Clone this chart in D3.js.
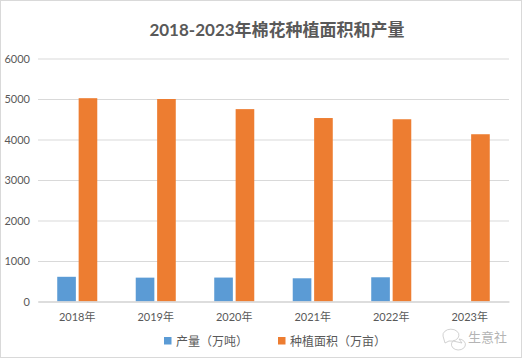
<!DOCTYPE html>
<html>
<head>
<meta charset="utf-8">
<script src="https://cdn.jsdelivr.net/npm/d3@7"></script>
<style>
  body { margin: 0; background: #fff; }
  text { font-family: Lato, "Noto Sans CJK SC", sans-serif; }
</style>
</head>
<body>
<div id="chart"></div>
<script>
let width = 523,
    height = 359;

// data
let years = ["2018年", "2019年", "2020年", "2021年", "2022年", "2023年"];
let seriesNames = ["产量（万吨）", "种植面积（万亩）"];
let output = [610, 589, 591, 573, 598, null];
let area = [5020, 5000, 4750, 4530, 4500, 4130];
let yTicks = [0, 1000, 2000, 3000, 4000, 5000, 6000];
let colors = ["#5B9BD5", "#ED7D31"];

let svg = d3.select("#chart")
  .append("svg")
  .attr("width", width)
  .attr("height", height);

// frame
svg.append("rect")
  .attr("x", 0.5).attr("y", 0.5)
  .attr("width", width - 2).attr("height", height - 2)
  .attr("fill", "#fff")
  .attr("stroke", "#d9d9d9");

let plotLeft = 38, plotRight = 509, plotTop = 58.5, plotBottom = 301.5;

let y = d3.scaleLinear()
  .domain([0, 6000])
  .range([plotBottom, plotTop]);

let x0 = d3.scaleBand()
  .domain(years)
  .range([plotLeft, plotRight])
  .paddingInner(0.49)
  .paddingOuter(0.245);

let x1 = d3.scaleBand()
  .domain([0, 1])
  .range([0, x0.bandwidth()])
  .paddingInner(0.13);

// title
svg.append("text")
  .attr("x", 277)
  .attr("y", 36)
  .attr("text-anchor", "middle")
  .attr("font-size", 17)
  .attr("font-weight", "bold")
  .attr("fill", "#595959")
  .text("2018-2023年棉花种植面积和产量");

// grid + y labels
let yAxis = d3.axisLeft(y)
  .tickValues(yTicks)
  .tickFormat(d3.format("d"))
  .tickSize(-(plotRight - plotLeft))
  .tickPadding(8);

let gy = svg.append("g")
  .attr("transform", "translate(" + plotLeft + ",0)")
  .call(yAxis);
gy.select(".domain").remove();
gy.selectAll(".tick line")
  .attr("stroke", "#d9d9d9")
  .attr("stroke-width", 1);
gy.selectAll(".tick text")
  .attr("font-size", 11)
  .attr("fill", "#595959")
  .attr("x", -8);

// bars
let rows = years.map((yr, i) => ({ year: yr, values: [output[i], area[i]] }));

let groups = svg.append("g")
  .selectAll("g")
  .data(rows)
  .enter().append("g")
  .attr("transform", d => "translate(" + x0(d.year) + ",0)");

groups.selectAll("rect")
  .data(d => d.values.map((v, k) => ({ k: k, v: v })).filter(e => e.v != null))
  .enter().append("rect")
  .attr("x", d => x1(d.k))
  .attr("width", x1.bandwidth())
  .attr("y", d => y(d.v))
  .attr("height", d => y(0) - y(d.v))
  .attr("fill", d => colors[d.k]);

// x axis
let xAxis = d3.axisBottom(x0).tickSize(0).tickPadding(12);
let gx = svg.append("g")
  .attr("transform", "translate(0," + plotBottom + ")")
  .call(xAxis);
gx.select(".domain")
  .attr("stroke", "#d9d9d9")
  .attr("stroke-width", 1.5);
gx.selectAll(".tick text")
  .attr("font-size", 11)
  .attr("fill", "#595959");

// legend
let legendX = [164, 278];
let legend = svg.append("g")
  .selectAll("g")
  .data(seriesNames)
  .enter().append("g")
  .attr("transform", (d, i) => "translate(" + legendX[i] + ",337)");
legend.append("rect")
  .attr("width", 7.5).attr("height", 7.5)
  .attr("fill", (d, i) => colors[i]);
legend.append("text")
  .attr("x", 12)
  .attr("y", 8.5)
  .attr("font-size", 12)
  .attr("fill", "#595959")
  .text(d => d);

// watermark
let wm = svg.append("g").attr("opacity", 0.55);
wm.append("path")
  .attr("d", "M443,336 a8,6 0 1,1 6,5 l-4,2 z")
  .attr("fill", "none")
  .attr("stroke", "#999")
  .attr("stroke-width", 0.8);
wm.append("path")
  .attr("d", "M453,341 a7,5.5 0 1,0 6,-2 l3,4 z")
  .attr("fill", "#fff")
  .attr("stroke", "#999")
  .attr("stroke-width", 0.8);
wm.append("text")
  .attr("x", 468)
  .attr("y", 342)
  .attr("font-size", 13)
  .attr("fill", "#777")
  .text("生意社");
</script>
</body>
</html>
